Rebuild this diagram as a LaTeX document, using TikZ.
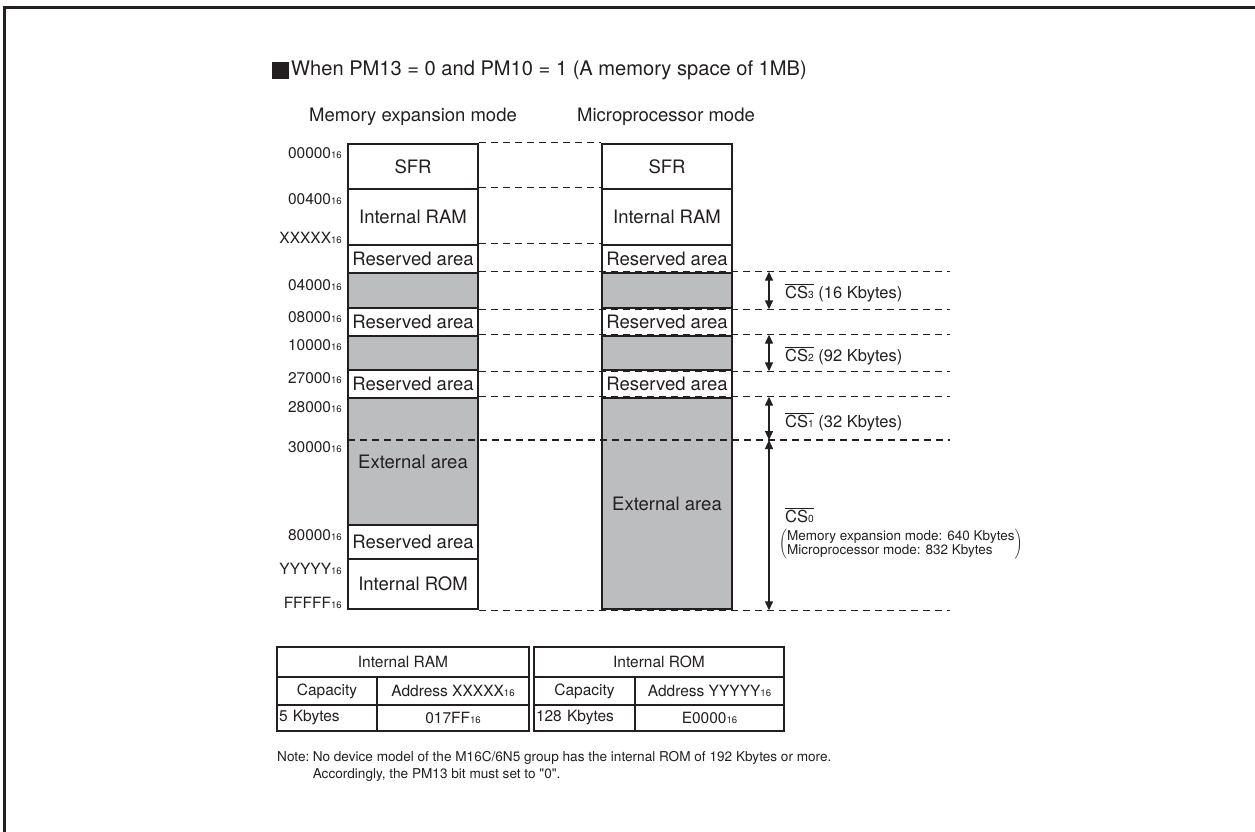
\documentclass[tikz,border=0pt]{standalone}
\usepackage{fontspec}
\setmainfont{TeX Gyre Heros}
\newfontfamily\plainq{TeX Gyre Heros}[Ligatures=TeXOff]
\usetikzlibrary{arrows.meta,positioning,calc}
\definecolor{ink}{HTML}{231F20}
\definecolor{shade}{HTML}{BCBDBF}
\newcommand{\lowsub}[1]{\scalebox{0.62}{#1}}
\newcommand{\csbar}[1]{$\overline{\mbox{CS\lowsub{#1}}}$}
\tikzset{
  base/.style={font=\fontsize{18.5}{21}\selectfont,align=center,inner sep=0pt,text=ink},
  area/.style={base,draw=ink,line width=2.6pt,fill=white,minimum width=130pt},
  extarea/.style={area,fill=shade},
  addr/.style={font=\fontsize{15.5}{17}\selectfont,anchor=east,inner sep=0pt,text=ink},
  guide/.style={draw=ink,line width=1.2pt,dash pattern=on 7pt off 5pt},
  csspan/.style={{Triangle[length=9pt,width=8pt]}-{Triangle[length=9pt,width=8pt]},draw=ink,line width=1.4pt},
  cslabel/.style={font=\fontsize{16.5}{18}\selectfont,anchor=west,inner sep=0pt,text=ink},
  cell/.style={draw=ink,line width=2.4pt,font=\fontsize{15.5}{17}\selectfont,inner sep=0pt,align=center,text=ink},
  notetext/.style={font=\fontsize{13.6}{17}\selectfont,inner sep=0pt,text=ink}
}

\begin{document}
\begin{tikzpicture}[x=1pt,y=-1pt]
\useasboundingbox (0,0) rectangle (1255,832);
\draw[ink,line width=3pt] (4,832) -- (4,8) -- (1255,8);

% title
\node[fill=ink,minimum size=17pt,inner sep=0pt] (bullet) at (280.5,71) {};
\node[base,font=\fontsize{20.1}{23}\selectfont,anchor=west] (title) at (291,70.5) {When PM13 = 0 and PM10 = 1 (A memory space of 1MB)};
\node[base] (hdrL) at (413,117) {Memory expansion mode};
\node[base] (hdrR) at (666,117) {Microprocessor mode};

% memory expansion mode
\node[area,minimum height=45pt] (sfrL) at (413,166.5) {SFR};
\node[area,minimum height=56pt] (ramL) at (413,217) {Internal RAM};
\node[area,minimum height=28pt] (resaL) at (413,259) {Reserved area};
\node[extarea,minimum height=35pt] (csthreeL) at (413,290.5) {};
\node[area,minimum height=28pt] (resbL) at (413,322) {Reserved area};
\node[extarea,minimum height=34pt] (cstwoL) at (413,353) {};
\node[area,minimum height=28pt] (rescL) at (413,384) {Reserved area};
\node[extarea,minimum height=127pt] (extL) at (413,461.5) {External area};
\node[area,minimum height=34pt] (resdL) at (413,542) {Reserved area};
\node[area,minimum height=50pt] (romL) at (413,584) {Internal ROM};

% microprocessor mode
\node[area,minimum height=45pt] (sfrR) at (667,166.5) {SFR};
\node[area,minimum height=56pt] (ramR) at (667,217) {Internal RAM};
\node[area,minimum height=28pt] (resaR) at (667,259) {Reserved area};
\node[extarea,minimum height=35pt] (csthreeR) at (667,290.5) {};
\node[area,minimum height=28pt] (resbR) at (667,322) {Reserved area};
\node[extarea,minimum height=34pt] (cstwoR) at (667,353) {};
\node[area,minimum height=28pt] (rescR) at (667,384) {Reserved area};
\node[extarea,minimum height=211pt] (extR) at (667,503.5) {External area};

% addresses
\node[addr] (aA) at (342,153) {00000\lowsub{16}};
\node[addr] (aB) at (342,199) {00400\lowsub{16}};
\node[addr] (aX) at (342,238) {XXXXX\lowsub{16}};
\node[addr] (aC) at (342,285) {04000\lowsub{16}};
\node[addr] (aD) at (342,317) {08000\lowsub{16}};
\node[addr] (aE) at (342,345) {10000\lowsub{16}};
\node[addr] (aF) at (342,378) {27000\lowsub{16}};
\node[addr] (aG) at (342,407) {28000\lowsub{16}};
\node[addr] (aH) at (342,447) {30000\lowsub{16}};
\node[addr] (aI) at (342,535) {80000\lowsub{16}};
\node[addr] (aY) at (342,569) {YYYYY\lowsub{16}};
\node[addr] (aZ) at (342,603) {FFFFF\lowsub{16}};

\coordinate (rim) at (950,0);
\coordinate (arrx) at (769,0);
\coordinate (cssplit) at (348,440);

% boundaries
\draw[guide] (sfrL.north east) -- (sfrR.north west);
\draw[guide] (ramL.north east) -- (ramR.north west);
\draw[guide] (resaL.north east) -- (resaR.north west);
\draw[guide] (csthreeL.north east) -- (rim |- csthreeL.north east);
\draw[guide] (csthreeL.south east) -- (rim |- csthreeL.south east);
\draw[guide] (cstwoL.north east) -- (rim |- cstwoL.north east);
\draw[guide] (cstwoL.south east) -- (rim |- cstwoL.south east);
\draw[guide] (extL.north east) -- (rim |- extL.north east);
\draw[guide] (cssplit) -- (rim |- cssplit);
\draw[guide] (romL.south east) -- (rim |- romL.south east);

% chip selects
\draw[csspan] (arrx |- csthreeR.north) -- (arrx |- csthreeR.south);
\draw[csspan] (arrx |- cstwoR.north) -- (arrx |- cstwoR.south);
\draw[csspan] (arrx |- extR.north) -- (arrx |- cssplit);
\draw[csspan] (arrx |- cssplit) -- (arrx |- extR.south);
\node[cslabel] (csthree) at (785,293) {\csbar{3} (16 Kbytes)};
\node[cslabel] (cstwo) at (785,356) {\csbar{2} (92 Kbytes)};
\node[cslabel] (csone) at (785,422) {\csbar{1} (32 Kbytes)};
\node[cslabel] (cszero) at (785,515) {\csbar{0}};
\node[cslabel,font=\fontsize{13.5}{16}\selectfont] (csmodes) at (779,544)
  {$\left(\mbox{\begin{tabular}{@{}l@{}}Memory expansion mode: 640 Kbytes\\[-2pt]Microprocessor mode: 832 Kbytes\end{tabular}}\right)$};

% capacity tables
\node[cell,minimum width=252pt,minimum height=30pt] (ramhead) at (403,662) {Internal RAM};
\node[cell,minimum width=100pt,minimum height=28pt] (ramcap) at (327,691) {Capacity};
\node[cell,minimum width=152pt,minimum height=28pt] (ramaddr) at (453,691) {Address XXXXX\lowsub{16}};
\node[cell,minimum width=100pt,minimum height=26pt,text width=96pt,align=left] (ramsize) at (327,718) {5 Kbytes};
\node[cell,minimum width=152pt,minimum height=26pt] (ramval) at (453,718) {017FF\lowsub{16}};
\node[cell,minimum width=250pt,minimum height=30pt] (romhead) at (659,662) {Internal ROM};
\node[cell,minimum width=101pt,minimum height=28pt] (romcap) at (584.5,691) {Capacity};
\node[cell,minimum width=149pt,minimum height=28pt] (romaddr) at (709.5,691) {Address YYYYY\lowsub{16}};
\node[cell,minimum width=101pt,minimum height=26pt,text width=97pt,align=left] (romsize) at (584.5,718) {128 Kbytes};
\node[cell,minimum width=149pt,minimum height=26pt] (romval) at (709.5,718) {E0000\lowsub{16}};

% note
\node[notetext,anchor=north west] (notehead) at (277,751) {Note:};
\node[notetext,anchor=north west,align=left] (notebody) at ([xshift=3pt]notehead.north east)
  {No device model of the M16C/6N5 group has the internal ROM of 192 Kbytes or more.\\Accordingly, the PM13 bit must set to {\plainq"}0{\plainq"}.};
\end{tikzpicture}
\end{document}
